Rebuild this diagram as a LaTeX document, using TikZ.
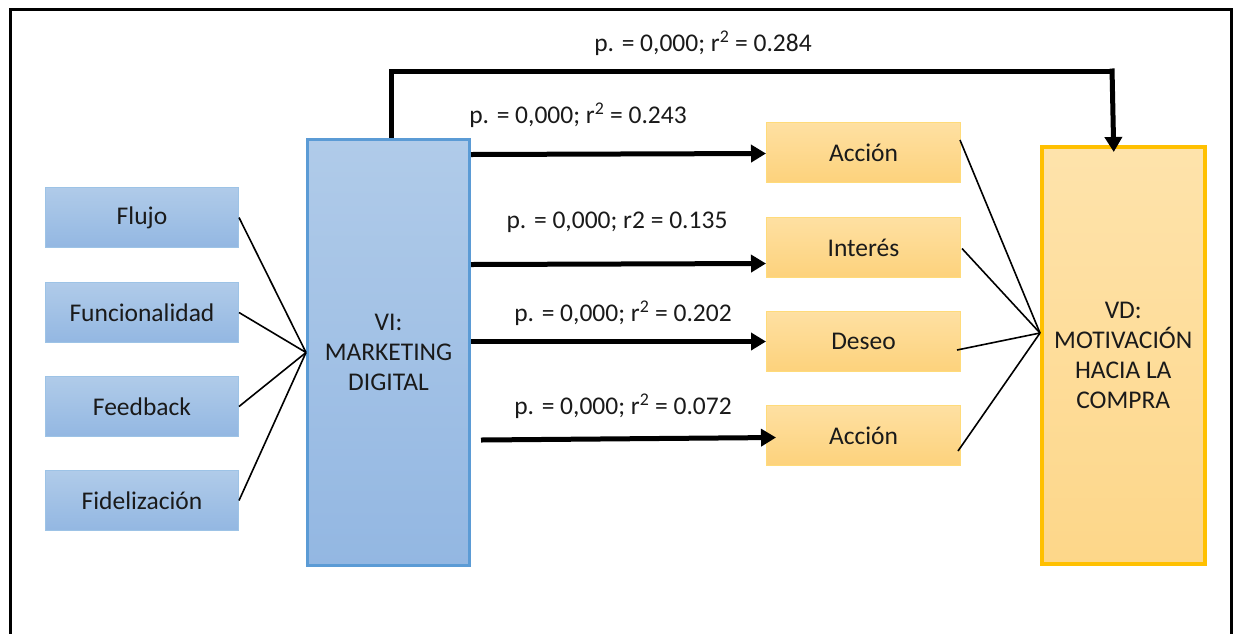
\documentclass[tikz,border=0pt]{standalone}
\usepackage{fontspec}
\setmainfont{Carlito}
\usetikzlibrary{arrows.meta,calc}
\definecolor{txt}{HTML}{1A1A1A}
\definecolor{bluetop}{HTML}{B0CBE9}
\definecolor{bluebot}{HTML}{93B7E2}
\definecolor{blueedge}{HTML}{9DC3E6}
\definecolor{bluebold}{HTML}{5B9BD5}
\definecolor{orgtop}{HTML}{FEE0A2}
\definecolor{orgbot}{HTML}{FDD27C}
\definecolor{orgedge}{HTML}{FFDB7A}
\definecolor{orgbold}{HTML}{FFC000}
\tikzset{
  x=1pt, y=-1pt,
  every node/.style={font=\fontsize{25.5}{30}\selectfont, text=txt},
  dimbox/.style={anchor=north west, minimum width=193pt, minimum height=60pt,
    top color=bluetop, bottom color=bluebot, draw=blueedge, line width=1pt, inner sep=0pt},
  varbox/.style={anchor=north west, minimum width=162pt, minimum height=426pt,
    top color=bluetop, bottom color=bluebot, draw=bluebold, line width=3pt,
    align=center, inner sep=0pt},
  aidabox/.style={anchor=north west, minimum width=194pt, minimum height=60pt,
    top color=orgtop, bottom color=orgbot, draw=orgedge, line width=1pt, inner sep=0pt},
  depbox/.style={anchor=north west, minimum width=163pt, minimum height=417pt,
    top color=orgtop!90!white, bottom color=orgbot!90!white, draw=orgbold, line width=3.5pt,
    align=center, inner sep=0pt},
  thin/.style={draw=black, line width=1.6pt},
  bigarrow/.style={draw=black, line width=5pt,
    -{Triangle[length=15pt,width=17pt]}},
  stat/.style={inner sep=0pt}
}
\begin{document}
\begin{tikzpicture}
\useasboundingbox (0,0) rectangle (1241,633);
\fill[white] (0,0) rectangle (1241,633);

% outer frame, open at the bottom edge
\begin{scope}
\clip (0,0) rectangle (1241,633);
\draw[line width=3pt] (10,640) -- (10,9) -- (1231,9) -- (1231,640);
\end{scope}

% dimensions of digital marketing
\node[dimbox] (flujo) at (45,187) {Flujo};
\node[dimbox] (func)  at (45,282) {Funcionalidad};
\node[dimbox] (feed)  at (45,376) {Feedback};
\node[dimbox] (fid)   at (45,470) {Fidelización};

% independent and dependent variables
\node[varbox] (vi) at (306,138) {VI:\\MARKETING\\DIGITAL};
\node[depbox] (vd) at (1040,145) {VD:\\MOTIVACIÓN\\HACIA LA\\COMPRA};

% AIDA stages
\node[aidabox] (acc1) at (766,122) {Acción};
\node[aidabox] (int)  at (766,217) {Interés};
\node[aidabox] (des)  at (766,311) {Deseo};
\node[aidabox] (acc2) at (766,405) {Acción};

% dimensions into VI
\foreach \n in {flujo,func,feed,fid}
  \draw[thin] (\n.east) -- (vi.west);

% stages into VD
\coordinate (vdin) at (1040,333);
\draw[thin] ([xshift=-1pt,yshift=12.5pt]acc1.east) -- (vdin);
\draw[thin] ([xshift=1pt,yshift=-1pt]int.east) -- (vdin);
\draw[thin] ([xshift=-4pt,yshift=-8.5pt]des.east) -- (vdin);
\draw[thin] ([xshift=-3pt,yshift=-15.5pt]acc2.east) -- (vdin);

% regressions from VI
\draw[bigarrow] ([yshift=-2pt]acc1.west -| vi.east) -- ([yshift=-1pt]acc1.west);
\draw[bigarrow] ([yshift=-17pt]int.west -| vi.east) -- ([yshift=-16pt]int.west);
\draw[bigarrow] (des.west -| vi.east) -- (des.west);
\draw[bigarrow] ([xshift=10pt,yshift=-4.5pt]acc2.west -| vi.east) -- ([xshift=10pt,yshift=-2pt]acc2.west);

\coordinate (topbend) at (1112,71);
\draw[line width=5pt] ([xshift=3pt]vi.north) |- (topbend);
\draw[bigarrow] ([yshift=2.5pt]topbend) -- ([xshift=-9.5pt,yshift=-7pt]vd.north);

% statistics
\node[stat] (s0) at (703,43)  {p. = 0,000; r\textsuperscript{2} = 0.284};
\node[stat] (s1) at (578,115) {p. = 0,000; r\textsuperscript{2} = 0.243};
\node[stat] (s2) at (617,222) {p. = 0,000; r2 = 0.135};
\node[stat] (s3) at (623,313) {p. = 0,000; r\textsuperscript{2} = 0.202};
\node[stat] (s4) at (623,406) {p. = 0,000; r\textsuperscript{2} = 0.072};
\end{tikzpicture}
\end{document}
